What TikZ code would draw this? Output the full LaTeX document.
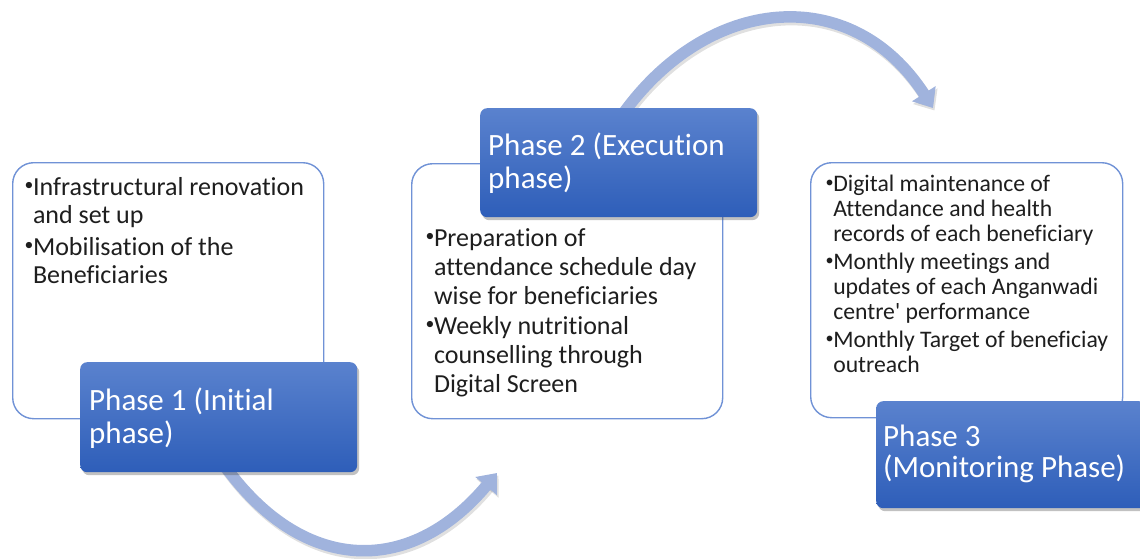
\documentclass[tikz,border=0pt]{standalone}
\usepackage{fontspec}
\usepackage{graphicx}
\setmainfont{Carlito}[Ligatures={TeX,NoCommon}]
\usetikzlibrary{arrows.meta,shadows}

\definecolor{edgeblue}{RGB}{112,146,214}
\definecolor{phasetop}{RGB}{90,130,206}
\definecolor{phasebot}{RGB}{46,94,185}
\definecolor{arrowblue}{RGB}{160,179,221}
\definecolor{bodytext}{RGB}{30,30,30}

% first-line strut so that a node's north edge sits a fixed distance above the first baseline
\newcommand{\fl}{\rule{0pt}{.85em}}
% small list bullet and the matching indent of continuation lines
\newcommand{\bul}{\makebox[.34em][l]{\hspace{.02em}\raisebox{.19em}{\scalebox{.68}{\textbullet}}}}
\newcommand{\ind}{\hspace*{.34em}}

\begin{document}
\begin{tikzpicture}[x=1pt,y=1pt,
  infobox/.style={draw=edgeblue, line width=1.4pt, rounded corners=21pt, fill=white,
                  anchor=north west, inner sep=0pt},
  phasebox/.style={rounded corners=7pt, top color=phasetop, bottom color=phasebot,
                   anchor=north west, inner sep=0pt,
                   drop shadow={shadow xshift=2pt, shadow yshift=-3pt, opacity=0.35, fill=black!70}},
  bodytxt/.style={anchor=north west, inner sep=0pt, align=left, text=bodytext},
  phasetxt/.style={anchor=north west, inner sep=0pt, align=left, text=white,
                   font=\fontsize{31}{33}\selectfont},
  cycarrow/.style={draw=arrowblue, line width=11.5pt,
                   -{Triangle[width=27pt,length=17pt]}},
  arrowshadow/.style={draw=black, opacity=0.12, line width=12pt,
                   -{Triangle[width=28pt,length=17pt]}},
]
\useasboundingbox (0,0) rectangle (1140,-559);

% curved connector arrows, drawn first so that the boxes cover their tails
\coordinate (a1s) at (222,-462);
\coordinate (a1e) at (497,-473);
\coordinate (a2s) at (620,-118);
\coordinate (a2e) at (933,-108);
\draw[arrowshadow, transform canvas={shift={(1.5pt,-2.5pt)}}]
  (a1s) .. controls (300.6,-574) and (409,-578) .. (a1e);
\draw[arrowshadow, transform canvas={shift={(1.5pt,-2.5pt)}}]
  (a2s) .. controls (706,5.7) and (851.5,18.8) .. (a2e);
\draw[cycarrow] (a1s) .. controls (300.6,-574) and (409,-578) .. (a1e);
\draw[cycarrow] (a2s) .. controls (706,5.7) and (851.5,18.8) .. (a2e);

% white content boxes
\node[infobox, minimum width=311pt, minimum height=256pt] (box1) at (12,-162) {};
\node[infobox, minimum width=311pt, minimum height=255pt] (box2) at (411,-163) {};
\node[infobox, minimum width=312pt, minimum height=255pt] (box3) at (810,-162) {};

\node[bodytxt, font=\fontsize{26}{28.5}\selectfont] (box1txt) at (24,-172.9) {%
  \fl\bul Infrastructural renovation\\
  \ind and set up\\[3pt]
  \bul Mobilisation of the\\
  \ind Beneficiaries};

\node[bodytxt, font=\fontsize{26}{29}\selectfont] (box2txt) at (425,-224.6) {%
  \fl\bul Preparation of\\
  \ind attendance schedule day\\
  \ind wise for beneficiaries\\[1pt]
  \bul Weekly nutritional\\
  \ind counselling through\\
  \ind Digital Screen};

\node[bodytxt, font=\fontsize{23.7}{25}\selectfont] (box3txt) at (825,-171.6) {%
  \fl\bul Digital maintenance of\\
  \ind Attendance and health\\
  \ind records of each beneficiary\\[3pt]
  \bul Monthly meetings and\\
  \ind updates of each Anganwadi\\
  \ind centre\textquotesingle{} performance\\[3pt]
  \bul Monthly Target of beneficiay\\
  \ind outreach};

% blue phase headers
\node[phasebox, minimum width=277pt, minimum height=110pt] (phase1) at (80,-362) {};
\node[phasebox, minimum width=277pt, minimum height=109pt] (phase2) at (480,-108) {};
\node[phasebox, minimum width=270pt, minimum height=107pt] (phase3) at (876,-401) {};

\node[phasetxt] (phase1txt) at (89,-383.6) {\fl Phase 1 (Initial\\phase)};
\node[phasetxt] (phase2txt) at (488,-128.6) {\fl Phase 2 (Execution\\phase)};
\node[phasetxt, font=\fontsize{31}{30.5}\selectfont] (phase3txt) at (883,-420.3) {\fl Phase 3\\(Monitoring Phase)};
\end{tikzpicture}
\end{document}
